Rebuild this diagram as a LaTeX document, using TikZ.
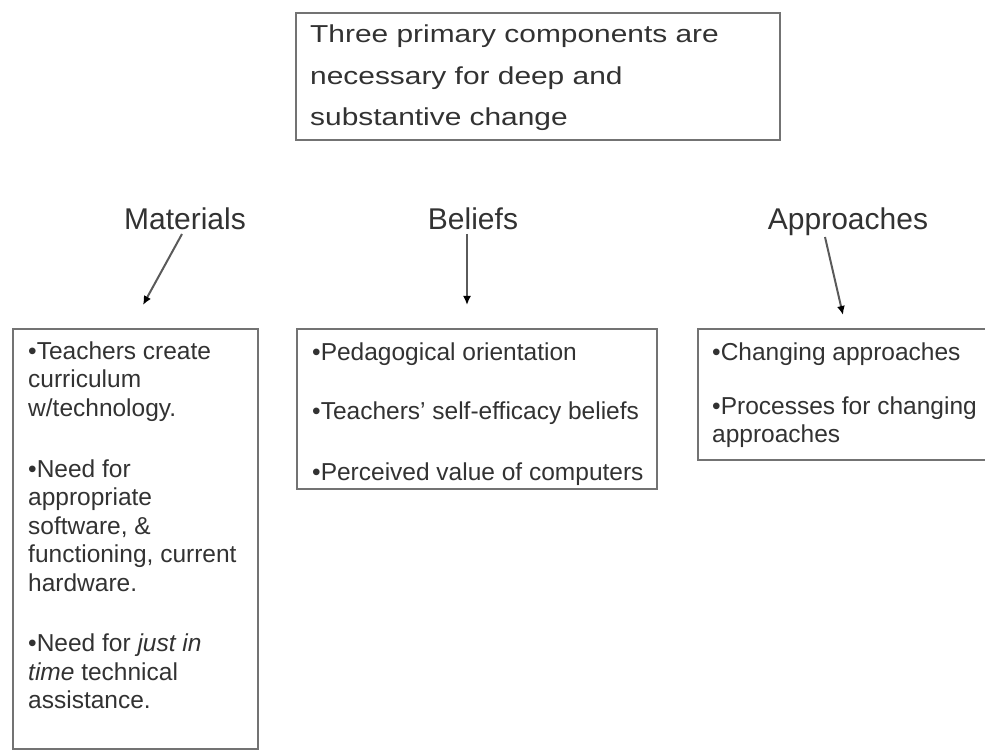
\documentclass[tikz,border=0pt]{standalone}
\usepackage{fontspec}
\setmainfont{Liberation Sans}
\newfontfamily\widefont{Liberation Sans}[FakeStretch=1.22]
\usetikzlibrary{arrows.meta}
\definecolor{boxgray}{RGB}{115,115,115}
\definecolor{txtgray}{RGB}{50,50,50}
\definecolor{linegray}{RGB}{90,90,90}
\tikzset{
  panel/.style={draw=boxgray, line width=2.8pt, inner sep=0pt, outer sep=0pt, anchor=north west},
  lbl/.style={font=\fontsize{30}{36}\selectfont, text=txtgray, inner sep=0pt, anchor=base},
  bul/.style={text=txtgray, inner sep=0pt, anchor=base west},
  arr/.style={draw=linegray, line width=2pt, -{Latex[length=9pt,width=8pt,fill=black,color=black]}},
}
\begin{document}
\begin{tikzpicture}[x=1pt,y=-1pt]
\useasboundingbox (0,0) rectangle (985,751);
\clip (0,0) rectangle (985,751);
% top box
\node[panel, minimum width=484pt, minimum height=127pt] (top) at (296,13) {};
\node[bul] (toptext) at (310,43) {\parbox[t]{460pt}{\raggedright\widefont\fontsize{24.5}{41.5}\selectfont Three primary components are\\ necessary for deep and\\ substantive change}};
% labels
\node[lbl] (mat) at (185,230) {Materials};
\node[lbl] (bel) at (473,230) {Beliefs};
\node[lbl] (app) at (848,230) {Approaches};
% boxes
\node[panel, minimum width=245pt, minimum height=420pt] (mbox) at (13,329) {};
\node[panel, minimum width=360pt, minimum height=160pt] (bbox) at (297,329) {};
\node[panel, minimum width=300pt, minimum height=131pt] (abox) at (698,329) {};
% arrows
\coordinate (m1) at (182,234);
\coordinate (m2) at (143,305);
\coordinate (b1) at (467,234);
\coordinate (b2) at (467,305);
\coordinate (a1) at (825,237);
\coordinate (a2) at (843,315);
\draw[arr] (m1) -- (m2);
\draw[arr] (b1) -- (b2);
\draw[arr] (a1) -- (a2);
% box texts
\node[bul] (mtext) at (28,359) {\parbox[t]{228pt}{\raggedright\fontsize{24.5}{28.5}\selectfont
•Teachers create\\ curriculum\\ w/technology.\par\vspace{32.5pt}
•Need for\\ appropriate\\ software, \&\\ functioning, current\\ hardware.\par\vspace{32.5pt}
•Need for \textit{just in}\\ \textit{time} technical\\ assistance.}};
\node[bul] (btext) at (312,360) {\parbox[t]{340pt}{\raggedright\fontsize{24.5}{28.5}\selectfont
•Pedagogical orientation\par\vspace{31pt}
•Teachers' self-efficacy beliefs\par\vspace{32.5pt}
•Perceived value of computers}};
\node[bul] (atext) at (712,360) {\parbox[t]{270pt}{\raggedright\fontsize{24.5}{28}\selectfont
•Changing approaches\par\vspace{26pt}
•Processes for changing\\ approaches}};
\end{tikzpicture}
\end{document}
